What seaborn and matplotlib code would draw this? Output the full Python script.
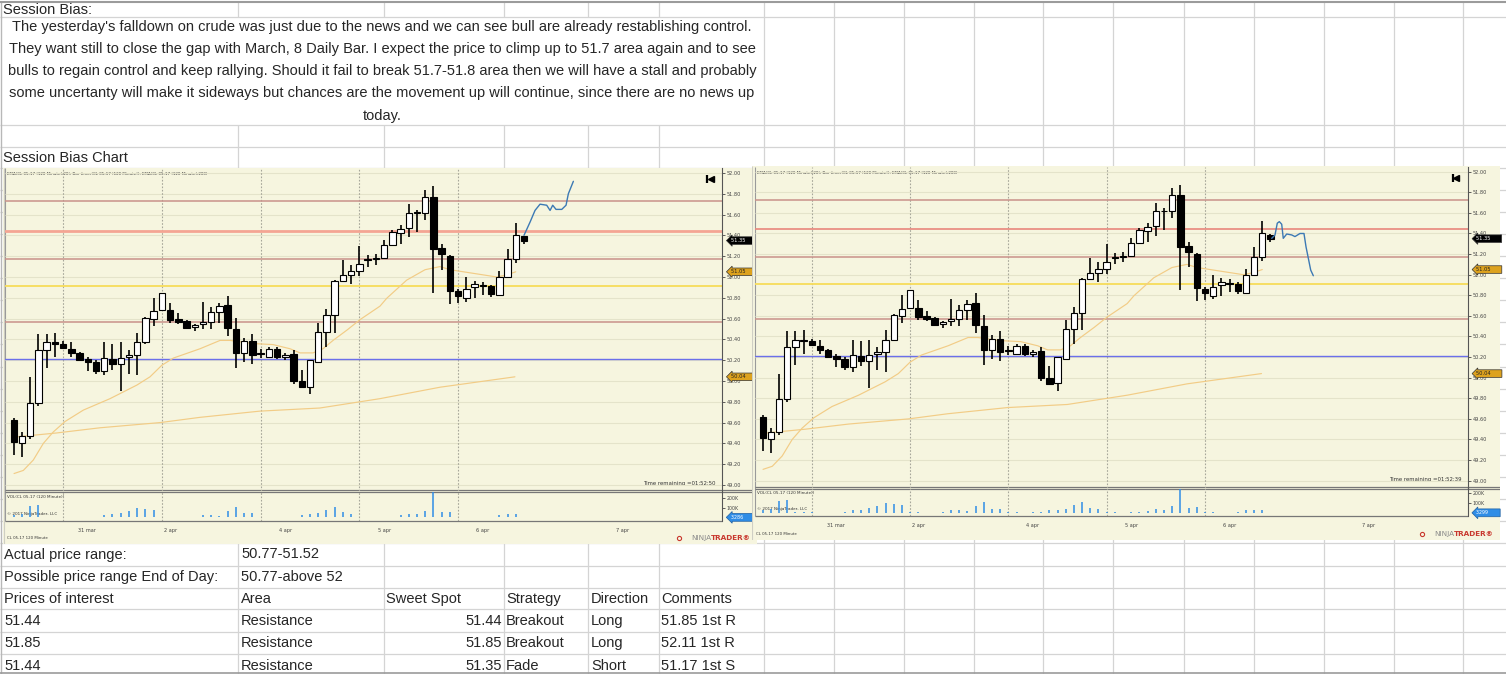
import numpy as np
import matplotlib
matplotlib.use("Agg")
import matplotlib.pyplot as plt
import matplotlib.transforms as mtransforms
import seaborn as sns

W, H = 1506, 674

# ---- CL 05-17, 120 minute bars ----
opens = [49.62, 49.40, 49.47, 49.79, 50.30, 50.37, 50.36, 50.31, 50.27, 50.21,
         50.18, 50.10, 50.21, 50.16, 50.23, 50.25, 50.37, 50.60, 50.68, 50.68,
         50.60, 50.58, 50.52, 50.55, 50.57, 50.66, 50.73, 50.50, 50.27, 50.38,
         50.27, 50.23, 50.31, 50.23, 50.26, 50.00, 49.945, 50.18, 50.47, 50.63,
         50.96, 51.02, 51.06, 51.17, 51.17, 51.18, 51.31, 51.42, 51.47, 51.62,
         51.62, 51.77, 51.275, 51.20, 50.865, 50.795, 50.90, 50.92, 50.91, 50.825,
         51.00, 51.17, 51.39]
highs = [49.64, 49.51, 50.04, 50.45, 50.45, 50.46, 50.38, 50.37, 50.28, 50.23,
         50.20, 50.37, 50.36, 50.37, 50.30, 50.46, 50.62, 50.80, 50.85, 50.75,
         50.65, 50.59, 50.55, 50.76, 50.71, 50.75, 50.82, 50.61, 50.41, 50.45,
         50.31, 50.33, 50.33, 50.27, 50.30, 50.11, 50.20, 50.56, 50.69, 50.97,
         51.16, 51.12, 51.30, 51.21, 51.22, 51.36, 51.45, 51.50, 51.70, 51.645,
         51.84, 51.875, 51.32, 51.21, 50.88, 51.00, 50.965, 50.955, 50.925, 51.06,
         51.27, 51.52, 51.395]
lows = [49.29, 49.27, 49.44, 49.76, 50.12, 50.23, 50.31, 50.23, 50.19, 50.10,
        50.07, 50.06, 50.11, 49.90, 50.07, 50.06, 50.36, 50.53, 50.67, 50.56,
        50.55, 50.50, 50.48, 50.50, 50.50, 50.56, 50.43, 50.12, 50.18, 50.16,
        50.22, 50.22, 50.21, 50.20, 49.97, 49.93, 49.875, 50.18, 50.33, 50.46,
        50.95, 50.93, 51.01, 51.10, 51.12, 51.17, 51.30, 51.32, 51.38, 51.435,
        51.55, 50.85, 51.07, 50.74, 50.75, 50.76, 50.795, 50.83, 50.81, 50.82,
        50.99, 51.13, 51.315]
closes = [49.41, 49.47, 49.79, 50.30, 50.37, 50.36, 50.32, 50.27, 50.20, 50.18,
          50.10, 50.22, 50.16, 50.22, 50.25, 50.37, 50.61, 50.67, 50.85, 50.59,
          50.57, 50.51, 50.54, 50.57, 50.66, 50.72, 50.51, 50.27, 50.38, 50.25,
          50.26, 50.31, 50.23, 50.25, 50.00, 49.94, 50.20, 50.47, 50.63, 50.96,
          51.02, 51.06, 51.125, 51.16, 51.18, 51.31, 51.43, 51.46, 51.62, 51.615,
          51.77, 51.27, 51.22, 50.87, 50.82, 50.88, 50.93, 50.91, 50.84, 51.00,
          51.17, 51.40, 51.35]
volumes_k = [25, 40, 119, 130, 8, 6, 4, 3, 3, 3,
             4, 25, 32, 49, 67, 95, 88, 77, 5, 4,
             3, 3, 5, 25, 25, 18, 67, 112, 42, 42,
             5, 4, 3, 4, 7, 25, 32, 42, 77, 105,
             53, 35, 6, 4, 3, 4, 5, 21, 35, 32,
             67, 260, 53, 56, 6, 4, 3, 3, 5, 25,
             32, 32, 3]

ema20_x = [0.04, 1.17, 2.38, 3.6, 4.81, 6.23, 8.46, 11.7, 14.95, 16.56, 17.98,
           19.39, 22.64, 25.07, 26.28, 29.08, 31.5, 33.57, 34.79, 36.37, 37.58,
           38.8, 40.5, 42.08, 44.51, 45.32, 47.75, 49.98, 51.8, 53.02, 54.63,
           56.66, 58.69, 59.9, 61.0]
ema20_y = [49.11, 49.14, 49.24, 49.40, 49.51, 49.61, 49.72, 49.83, 49.96, 50.04, 50.15,
           50.22, 50.31, 50.39, 50.39, 50.36, 50.35, 50.31, 50.27, 50.27, 50.31,
           50.39, 50.49, 50.59, 50.72, 50.795, 50.97, 51.07, 51.10, 51.07, 51.05,
           51.025, 51.00, 51.02, 51.05]
ema200_x = [0.04, 5.2, 10.5, 17.8, 22.6, 29.9, 37.2, 44.5, 51.8, 60.9]
ema200_y = [49.46, 49.50, 49.55, 49.60, 49.65, 49.71, 49.74, 49.83, 49.94, 50.04]

# hand drawn projections
left_path_x = [62.0, 62.75, 63.34, 63.95, 64.76, 65.17, 65.49, 65.89, 66.59, 67.11, 67.39, 68.0]
left_path_y = [51.40, 51.53, 51.64, 51.70, 51.69, 51.64, 51.69, 51.65, 51.65, 51.69, 51.80, 51.92]
right_path_x = [62.15, 62.55, 62.83, 63.08, 63.37, 63.56, 63.98, 64.59, 64.99, 65.6,
                66.09, 66.34, 66.62, 66.91, 67.23]
right_path_y = [51.353, 51.385, 51.50, 51.515, 51.49, 51.353, 51.395, 51.386, 51.37, 51.40,
                51.40, 51.27, 51.16, 51.045, 50.99]

level_prices = [51.73, 51.44, 51.17, 50.91, 50.57, 50.21]
price_ticks = [49.00, 49.20, 49.40, 49.60, 49.80, 50.00, 50.20, 50.40, 50.60,
               50.80, 51.00, 51.20, 51.40, 51.60, 51.80, 52.00]
marker_prices = [51.35, 51.05, 50.04]
session_breaks = [6, 18, 30, 42, 54]
date_ticks = [8.9, 19, 33, 45, 57, 74]
date_labels = ["31 mar", "2 apr", "4 apr", "5 apr", "6 apr", "7 apr"]

bias_lines = [
    "The yesterday's falldown on crude was just due to the news and we can see bull are already restablishing control.",
    "They want still to close the gap with March, 8 Daily Bar. I expect the price to climp up to 51.7 area again and to see",
    "bulls to regain control and keep rallying. Should it fail to break 51.7-51.8 area then we will have a stall and probably",
    "some uncertanty will make it sideways but chances are the movement up will continue, since there are no news up",
    "today.",
]
table_rows = [
    ["Actual price range:", "50.77-51.52"],
    ["Possible price range End of Day:", "50.77-above 52"],
    ["Prices of interest", "Area", "Sweet Spot", "Strategy", "Direction", "Comments"],
    ["51.44", "Resistance", "51.44", "Breakout", "Long", "51.85 1st R"],
    ["51.85", "Resistance", "51.85", "Breakout", "Long", "52.11 1st R"],
    ["51.44", "Resistance", "51.35", "Fade", "Short", "51.17 1st S"],
]

sns.set_style("white")
plt.rcParams["font.family"] = ["DejaVu Sans"]
SHEET_FONT = ["Liberation Sans", "DejaVu Sans"]
BEIGE = "#F6F5DF"
EMA_C = "#F2CC86"
ROSY = "#C9918A"


def px_box(x0, y0, x1, y1):
    return [x0 / W, 1 - y1 / H, (x1 - x0) / W, (y1 - y0) / H]


fig = plt.figure(figsize=(W / 100, H / 100), dpi=100)

# ---- spreadsheet ----
sheet = fig.add_axes([0, 0, 1, 1])
sheet.set_xlim(0, W)
sheet.set_ylim(H, 0)
sheet.axis("off")
grid_c = "#D4D4D4"
col_x = [238, 384, 504, 588, 659, 764, 834, 904, 974, 1043, 1113, 1184, 1254, 1324, 1394, 1463]
row_y = [17, 125, 147] + list(np.linspace(168, 543, 18)) + [566, 588, 609, 632, 654]
sheet.hlines(row_y, 0, W, color=grid_c, lw=0.9)
for x in col_x:
    sheet.vlines(x, 2, 17, color=grid_c, lw=0.9)
    if x >= 764:
        sheet.vlines(x, 17, 125, color=grid_c, lw=0.9)
    sheet.vlines(x, 125, H, color=grid_c, lw=0.9)
sheet.vlines(0.8, 2, H, color="#B8B8B8", lw=1)
sheet.hlines(2, 0, W, color="#9B9B9B", lw=1.5)
sheet.hlines(673, 0, W, color="#9B9B9B", lw=1.2)

sheet.text(3, 9.5, "Session Bias:", fontsize=10.5, family=SHEET_FONT, va="center")
for k, line in enumerate(bias_lines):
    sheet.text(382, 26.5 + k * 22.3, line, fontsize=10.5, family=SHEET_FONT,
               ha="center", va="center")
sheet.text(3, 158.5, "Session Bias Chart", fontsize=10.5, family=SHEET_FONT, va="center")

col_text_x = [4, 241, 386, 506, 591, 661]
for r, row in enumerate(table_rows):
    yy = 554.5 + r * 22.2
    for c, cell in enumerate(row):
        if c == 2 and r >= 3:
            sheet.text(502, yy, cell, fontsize=10.5, family=SHEET_FONT, ha="right", va="center")
        else:
            sheet.text(col_text_x[c], yy, cell, fontsize=10.5, family=SHEET_FONT, va="center")


def draw_chart(img, pbox, vbox, xlim, plim, vlim, hot, path_x, path_y, timer, vmark):
    x0, y0, x1, y1 = img
    frame = fig.add_axes(px_box(*img))
    frame.set_xlim(x0, x1)
    frame.set_ylim(y1, y0)
    frame.set_facecolor(BEIGE)
    frame.set_xticks([])
    frame.set_yticks([])
    for s in frame.spines.values():
        s.set_visible(False)
    frame.vlines(x0 + 0.5, y0, y1, color="#CFCFC4", lw=0.8)
    frame.vlines(pbox[0], pbox[1], vbox[3], color="#9A9A9A", lw=0.8)
    frame.hlines([pbox[3] - 0.8, pbox[3] + 0.8], pbox[0], x1, color="#777777", lw=0.9)
    frame.hlines(vbox[3], pbox[0], pbox[2], color="#777777", lw=0.9)

    tiny = dict(color="#333333", va="center")
    frame.text(pbox[0] + 2, pbox[1] + 6,
               "EMA(CL 05-17 (120 Minute),20), Bar timer(CL 05-17 (120 Minute)), EMA(CL 05-17 (120 Minute),200)",
               fontsize=2.9, **tiny)
    frame.text(pbox[2] - 6, pbox[3] - 8, timer, fontsize=3.9, ha="right", **tiny)
    frame.text(pbox[0] + 2, vbox[1] + 5, "VOL(CL 05-17 (120 Minute))", fontsize=3, **tiny)
    frame.text(pbox[0] + 2, vbox[3] - 7, "\u00a9 2017 NinjaTrader, LLC", fontsize=3, **tiny)
    frame.text(x0 + 4, y1 - 6, "CL 05-17 120 Minute", fontsize=2.8, **tiny)
    frame.text(x1 - 46, y1 - 6, "NINJA", fontsize=5.2, color="#8A8A8A", ha="right", va="center")
    frame.text(x1 - 46, y1 - 6, "TRADER\u00ae", fontsize=5.2, color="#C8372D", ha="left",
               va="center", fontweight="bold")
    frame.plot([x1 - 78], [y1 - 6], marker="o", ms=3, mfc="none", mec="#C8372D", mew=0.8)
    kx, ky = pbox[2] - 12, pbox[1] + 11
    frame.vlines(kx - 3, ky - 4, ky + 4, color="black", lw=1.6)
    frame.plot([kx + 0.5], [ky], marker="<", ms=5, color="black")

    idx = np.arange(len(opens))
    ax = fig.add_axes(px_box(*pbox))
    ax.set_facecolor("none")
    ax.set_xlim(*xlim)
    ax.set_ylim(*plim)
    ax.hlines(price_ticks, *xlim, color="#E4E3CA", lw=0.8, zorder=0)
    ax.vlines(session_breaks, *plim, color="#A7A79A", lw=0.8, linestyles=(0, (1.5, 1.5)), zorder=0.5)
    level_colors = [ROSY, hot[0], ROSY, "#F7DC5A", ROSY, "#6B6FEA"]
    level_widths = [1.1, hot[1], 1.1, 1.3, 1.1, 1.0]
    for price, color, lw in zip(level_prices, level_colors, level_widths):
        ax.axhline(price, color=color, lw=lw, zorder=1)
    sns.lineplot(x=ema200_x, y=ema200_y, ax=ax, color=EMA_C, linewidth=0.85, sort=False, zorder=2)
    sns.lineplot(x=ema20_x, y=ema20_y, ax=ax, color=EMA_C, linewidth=0.85, sort=False, zorder=2)
    o = np.array(opens)
    c = np.array(closes)
    ax.vlines(idx, lows, highs, color="black", lw=1.2, zorder=3)
    body_h = np.maximum(np.abs(c - o), 0.008)
    body_c = np.where(c >= o, "white", "black")
    ax.bar(idx, body_h, bottom=np.minimum(o, c), width=0.78, color=body_c,
           edgecolor="black", linewidth=0.8, zorder=4)
    sns.lineplot(x=path_x, y=path_y, ax=ax, color="#3C79B4", linewidth=1, sort=False, zorder=5)
    ax.yaxis.tick_right()
    ax.set_yticks(price_ticks)
    ax.set_yticklabels([f"{v:.2f}" for v in price_ticks])
    ax.tick_params(axis="y", length=2, width=0.6, pad=1.5, labelsize=3.6, colors="#444444")
    ax.set_xticks([])
    ax.set_xlabel("")
    ax.set_ylabel("")
    for s in ["top", "bottom", "left"]:
        ax.spines[s].set_visible(False)
    ax.spines["right"].set_color("#555555")
    ax.spines["right"].set_linewidth(0.8)
    blend = mtransforms.blended_transform_factory(ax.transAxes, ax.transData)
    for value, fc, tc in zip(marker_prices, ["black", "#DDA21E", "#DDA21E"],
                             ["white", "#222222", "#222222"]):
        ax.text(1.012, value, f"{value:.2f}      ", transform=blend, fontsize=3.7, color=tc,
                va="center", ha="left", clip_on=False, zorder=6,
                bbox=dict(boxstyle="larrow,pad=0.25", fc=fc, ec="#333333", lw=0.5))

    vx = fig.add_axes(px_box(*vbox))
    vx.set_facecolor("none")
    vx.set_xlim(*xlim)
    vx.set_ylim(*vlim)
    vx.vlines(session_breaks, *vlim, color="#A7A79A", lw=0.8, linestyles=(0, (1.5, 1.5)), zorder=0.5)
    vx.vlines(idx, 0, np.array(volumes_k) * 1000, color="#2F8DE6", lw=1.1, zorder=2)
    vx.yaxis.tick_right()
    vx.set_yticks([100000, 200000])
    vx.set_yticklabels(["100K", "200K"])
    vx.set_xticks(date_ticks)
    vx.set_xticklabels(date_labels)
    vx.tick_params(axis="y", length=2, width=0.6, pad=1.5, labelsize=3.4, colors="#444444")
    vx.tick_params(axis="x", length=2, width=0.6, pad=3, labelsize=3.6, colors="#444444")
    for s in ["top", "bottom", "left"]:
        vx.spines[s].set_visible(False)
    vx.spines["right"].set_color("#555555")
    vx.spines["right"].set_linewidth(0.8)
    vblend = mtransforms.blended_transform_factory(vx.transAxes, vx.transData)
    vx.text(1.012, 0, f"{vmark}       ", transform=vblend, fontsize=3.4, color="white",
            va="center", ha="left", clip_on=False, zorder=6,
            bbox=dict(boxstyle="larrow,pad=0.3", fc="#2F8DE6", ec="#1F5FA0", lw=0.5))


draw_chart(img=(3, 168, 757, 544), pbox=(5, 168, 722, 491), vbox=(5, 492, 722, 521),
           xlim=(-1.06, 86.06), plim=(48.942, 52.048), vlim=(-38000, 265000),
           hot=("#F4A593", 2.0), path_x=left_path_x, path_y=left_path_y,
           timer="Time remaining =01:52:50", vmark="3286")
draw_chart(img=(752, 166, 1500, 540), pbox=(755, 166.7, 1467.7, 487.7), vbox=(755, 488.5, 1467.7, 516),
           xlim=(-0.94, 86.08), plim=(48.932, 52.0485), vlim=(-32000, 245000),
           hot=("#E8867C", 1.2), path_x=right_path_x, path_y=right_path_y,
           timer="Time remaining =01:52:39", vmark="3299")

fig.savefig("out.png", dpi=100)
